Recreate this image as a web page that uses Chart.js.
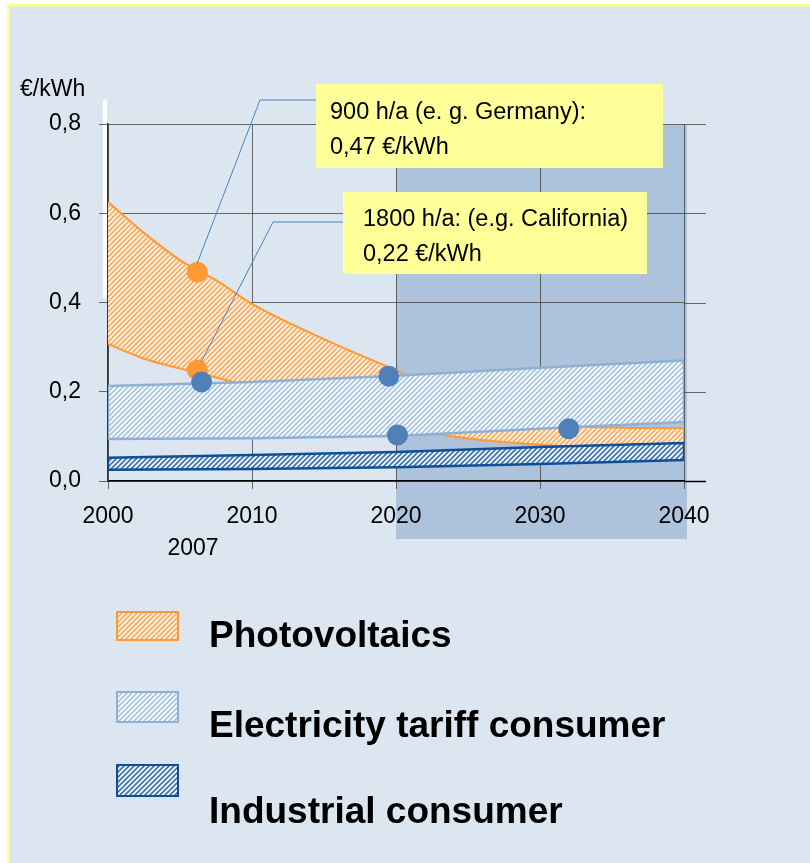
<!DOCTYPE html>
<html>
<head>
<meta charset="utf-8">
<script src="https://cdn.jsdelivr.net/npm/chart.js@4.4.1/dist/chart.umd.min.js"></script>
<style>
  html, body { margin: 0; padding: 0; background: #fff; }
  canvas { display: block; }
</style>
</head>
<body>
<canvas id="costChart" width="810" height="863"></canvas>
<script>
// photovoltaics cost band, 900 h/a (upper) and 1800 h/a (lower)
const pvYears = [2000, 2002.5, 2005, 2007.5, 2010, 2015, 2020, 2025, 2030, 2035, 2040];
const pvHigh  = [0.625, 0.556, 0.495, 0.45, 0.397, 0.318, 0.248, 0.178, 0.128, 0.12, 0.118];
const pvLow   = [0.307, 0.274, 0.252, 0.232, 0.21, 0.163, 0.122, 0.095, 0.081, 0.07, 0.06];

// grid tariffs
const bandYears    = [2000, 2010, 2020, 2030, 2040];
const tariffHigh   = [0.213, 0.222, 0.236, 0.254, 0.27];
const tariffLow    = [0.094, 0.096, 0.101, 0.117, 0.132];
const industryHigh = [0.052, 0.058, 0.065, 0.076, 0.085];
const industryLow  = [0.025, 0.027, 0.031, 0.038, 0.047];

// marked points
const orangeDotX = [2006.2, 2006.2];
const orangeDotY = [0.468, 0.249];
const blueDotX = [2006.5, 2019.5, 2020.1, 2032];
const blueDotY = [0.222, 0.235, 0.103, 0.117];

const xTicks = [2000, 2010, 2020, 2030, 2040];
const yTicks = [0, 0.2, 0.4, 0.6, 0.8];
const forecastFrom = 2020, forecastTo = 2040;
const seriesNames = ['Photovoltaics', 'Electricity tariff consumer', 'Industrial consumer'];
const calloutText = [
    ['900 h/a (e. g. Germany):', '0,47 €/kWh'],
    ['1800 h/a: (e.g. California)', '0,22 €/kWh']
];

const FONT = '"Liberation Sans", Arial, sans-serif';
const canvas = document.getElementById('costChart');
const mainCtx = canvas.getContext('2d');

let hatch = function (bg, fg) {
    const c = document.createElement('canvas');
    c.width = 5; c.height = 5;
    const g = c.getContext('2d');
    g.fillStyle = bg;
    g.fillRect(0, 0, 5, 5);
    g.strokeStyle = fg;
    g.lineWidth = 1.7;
    g.beginPath();
    g.moveTo(0, 5); g.lineTo(5, 0);
    g.moveTo(-1, 1); g.lineTo(1, -1);
    g.moveTo(4, 6); g.lineTo(6, 4);
    g.stroke();
    return mainCtx.createPattern(c, 'repeat');
};

const pvHatch = hatch('#fff5ec', '#ffab5e');
const tariffHatch = hatch('#f8fafd', '#a9c4df');
const industryHatch = hatch('#f5f8fc', '#3f74b3');

// closed outline: along the upper edge, back along the lower edge
let band = function (xs, hi, lo) {
    let pts = xs.map((x, i) => ({x: x, y: hi[i]}));
    for (let i = xs.length - 1; i >= 0; i--) pts.push({x: xs[i], y: lo[i]});
    pts.push(pts[0]);
    return pts;
};

let points = (xs, ys) => xs.map((x, i) => ({x: x, y: ys[i]}));

const gridColor = 'rgba(60,60,60,0.75)';

const decor = {
    id: 'decor',
    beforeDraw(chart) {
        const {ctx, chartArea: a, scales: {x, y}} = chart;
        ctx.save();
        ctx.fillStyle = '#ffffff';
        ctx.fillRect(0, 0, chart.width, chart.height);
        ctx.fillStyle = '#dce6f1';
        ctx.fillRect(7, 4, chart.width - 7, chart.height - 4);
        ctx.fillStyle = '#ffff88';
        ctx.fillRect(7, 4, chart.width - 7, 2.5);
        ctx.fillRect(7, 4, 2.5, chart.height - 4);

        // forecast period
        const x0 = x.getPixelForValue(forecastFrom), x1 = x.getPixelForValue(forecastTo) + 3;
        ctx.fillStyle = 'rgba(140,172,205,0.6)';
        ctx.fillRect(x0, a.top + 1, x1 - x0, a.bottom + 57 - a.top);

        // white strip next to the upper y axis
        const sTop = y.getPixelForValue(0.855), sBot = y.getPixelForValue(0.41);
        ctx.fillStyle = '#ffffff';
        ctx.fillRect(a.left - 5, sTop, 4, sBot - sTop);

        ctx.fillStyle = '#000';
        ctx.font = '23px ' + FONT;
        ctx.textBaseline = 'alphabetic';
        ctx.fillText('€/kWh', 20, 96);
        ctx.restore();
    },
    afterDraw(chart) {
        const {ctx, chartArea: a, scales: {x, y}} = chart;
        ctx.save();

        // gridlines run a little past 2040
        yTicks.forEach(v => {
            const py = Math.round(y.getPixelForValue(v)) + 0.5;
            ctx.strokeStyle = v === 0 ? '#000' : gridColor;
            ctx.lineWidth = v === 0 ? 1.5 : 1;
            ctx.beginPath();
            ctx.moveTo(a.right, py);
            ctx.lineTo(a.right + 22, py);
            ctx.stroke();
        });

        // leader lines
        ctx.strokeStyle = '#4f81bd';
        ctx.lineWidth = 1;
        ctx.beginPath();
        ctx.moveTo(316, 100);
        ctx.lineTo(260, 100);
        ctx.lineTo(x.getPixelForValue(orangeDotX[0]), y.getPixelForValue(orangeDotY[0]) - 9);
        ctx.moveTo(343, 222);
        ctx.lineTo(273, 222);
        ctx.lineTo(x.getPixelForValue(orangeDotX[1]) + 4, y.getPixelForValue(orangeDotY[1]) - 8);
        ctx.stroke();

        // callouts
        const boxes = [[316, 84, 347, 84, 330, 119, 154], [343, 192, 304, 82, 363, 226, 261]];
        ctx.font = '23.5px ' + FONT;
        ctx.textAlign = 'left';
        boxes.forEach((b, i) => {
            ctx.fillStyle = '#ffff99';
            ctx.fillRect(b[0], b[1], b[2], b[3]);
            ctx.fillStyle = '#000';
            ctx.fillText(calloutText[i][0], b[4], b[5]);
            ctx.fillText(calloutText[i][1], b[4], b[6]);
        });

        // extra year label
        ctx.font = '23px ' + FONT;
        ctx.textAlign = 'center';
        ctx.fillText('2007', x.getPixelForValue(2005.9), 555);

        // legend
        const rows = [
            {fill: pvHatch, line: '#ff9933', box: [117, 612, 61, 28], ty: 647},
            {fill: tariffHatch, line: '#8db0d3', box: [117, 692, 61, 30], ty: 737},
            {fill: industryHatch, line: '#0d4f98', box: [117, 765, 61, 31], ty: 823}
        ];
        ctx.textAlign = 'left';
        ctx.font = 'bold 37px ' + FONT;
        rows.forEach((r, i) => {
            ctx.fillStyle = r.fill;
            ctx.fillRect(r.box[0], r.box[1], r.box[2], r.box[3]);
            ctx.strokeStyle = r.line;
            ctx.lineWidth = 2;
            ctx.strokeRect(r.box[0], r.box[1], r.box[2], r.box[3]);
            ctx.fillStyle = '#000';
            ctx.fillText(seriesNames[i], 209, r.ty);
        });
        ctx.restore();
    }
};

const last = pvYears.length - 1;

let costChart = new Chart(mainCtx, {
    type: 'line',
    data: {
        datasets: [{
            label: 'blue points',
            data: points(blueDotX, blueDotY),
            showLine: false,
            pointRadius: 10.5,
            pointBackgroundColor: '#4f81b8',
            pointBorderWidth: 0
        }, {
            label: 'orange points',
            data: points(orangeDotX, orangeDotY),
            showLine: false,
            pointRadius: 10.5,
            pointBackgroundColor: '#ff9933',
            pointBorderWidth: 0
        }, {
            label: seriesNames[2],
            data: band(bandYears, industryHigh, industryLow),
            fill: 'shape',
            backgroundColor: industryHatch,
            borderColor: '#0d4f98',
            borderWidth: 2.5,
            pointRadius: 0,
            tension: 0
        }, {
            label: seriesNames[1],
            data: band(bandYears, tariffHigh, tariffLow),
            fill: 'shape',
            backgroundColor: tariffHatch,
            borderColor: '#8db0d3',
            borderWidth: 2.5,
            pointRadius: 0,
            tension: 0
        }, {
            label: 'pv edge',
            data: [{x: pvYears[last], y: pvHigh[last]}, {x: pvYears[last], y: pvLow[last]}],
            fill: false,
            borderColor: '#ff9933',
            borderWidth: 2,
            pointRadius: 0
        }, {
            label: '1800 h/a',
            data: points(pvYears, pvLow),
            fill: false,
            borderColor: '#ff9933',
            borderWidth: 2,
            pointRadius: 0,
            cubicInterpolationMode: 'monotone'
        }, {
            label: '900 h/a',
            data: points(pvYears, pvHigh),
            fill: '-1',
            backgroundColor: pvHatch,
            borderColor: '#ff9933',
            borderWidth: 2,
            pointRadius: 0,
            cubicInterpolationMode: 'monotone'
        }]
    },
    options: {
        responsive: false,
        animation: false,
        events: [],
        layout: {padding: {left: 48, right: 126, top: 124, bottom: 322}},
        plugins: {
            legend: {display: false},
            tooltip: {enabled: false}
        },
        scales: {
            x: {
                type: 'linear',
                min: 2000,
                max: 2040,
                afterFit: s => { s.height = 60; },
                afterBuildTicks: s => { s.ticks = xTicks.map(v => ({value: v})); },
                ticks: {
                    color: '#000',
                    font: {family: FONT, size: 23},
                    padding: 14,
                    maxRotation: 0,
                    callback: v => String(v)
                },
                grid: {color: gridColor, lineWidth: 1, tickLength: 8},
                border: {color: '#000', width: 1.5}
            },
            y: {
                min: 0,
                max: 0.8,
                afterFit: s => { s.width = 60; },
                afterBuildTicks: s => { s.ticks = yTicks.map(v => ({value: v})); },
                ticks: {
                    color: '#000',
                    font: {family: FONT, size: 23},
                    padding: 18,
                    callback: v => v.toFixed(1).replace('.', ',')
                },
                grid: {color: gridColor, lineWidth: 1, tickLength: 9},
                border: {color: '#333', width: 1.5}
            }
        }
    },
    plugins: [decor]
});
</script>
</body>
</html>
